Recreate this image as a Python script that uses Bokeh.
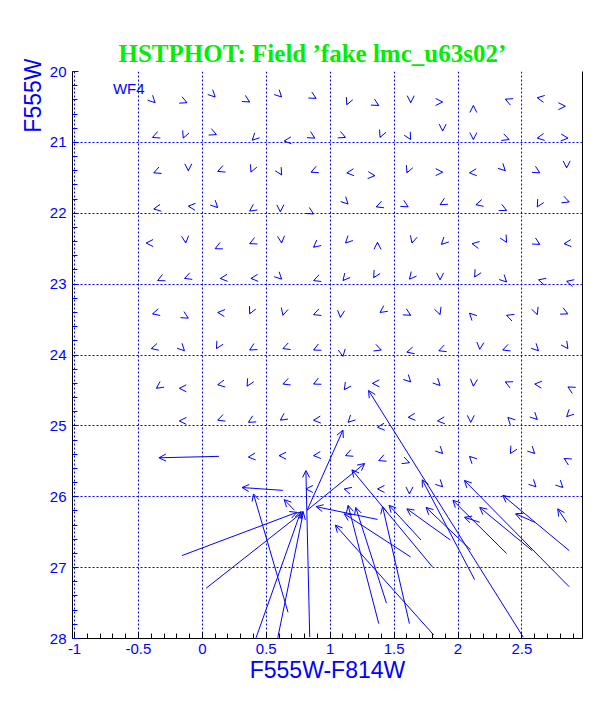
import numpy as np
from bokeh.plotting import figure
from bokeh.models import (Range1d, Arrow, OpenHead, ColumnDataSource, Label, Title,
                          LinearAxis, SingleIntervalTicker, FixedTicker,
                          CustomJSTickFormatter)
from bokeh.embed import file_html
from bokeh.resources import INLINE

# ---------------- data ----------------
# well-recovered fake stars: measured colour, measured magnitude, error direction (deg)
small_x = [
    -0.37, -0.12, 0.10, 0.37, 0.62, 0.89, 1.13, 1.38, 1.63, 1.88, 2.12, 2.37, 2.62, 2.84,
    -0.39, -0.15, 0.11, 0.39, 0.64, 0.88, 1.12, 1.39, 1.63, 1.88, 2.12, 2.40, 2.62, 2.86,
    -0.38, -0.11, 0.12, 0.38, 0.62, 0.85, 1.13, 1.35, 1.60, 1.88, 2.09, 2.37, 2.64, 2.85,
    -0.38, -0.11, 0.12, 0.37, 0.61, 0.87, 1.14, 1.36, 1.61, 1.86, 2.14, 2.38, 2.62, 2.87,
    -0.44, -0.13, 0.10, 0.37, 0.62, 0.87, 1.12, 1.37, 1.64, 1.87, 2.11, 2.38, 2.64, 2.83,
    -0.35, -0.14, 0.14, 0.38, 0.62, 0.87, 1.10, 1.34, 1.62, 1.86, 2.13, 2.38, 2.63, 2.85,
    -0.39, -0.11, 0.12, 0.37, 0.63, 0.87, 1.08, 1.39, 1.63, 1.86, 2.09, 2.38, 2.62, 2.86,
    -0.40, -0.14, 0.11, 0.37, 0.63, 0.87, 1.10, 1.40, 1.60, 1.85, 2.17, 2.35, 2.63, 2.86,
    -0.36, -0.18, 0.12, 0.35, 0.63, 0.87, 1.11, 1.33, 1.63, 1.86, 2.12, 2.37, 2.60, 2.86,
    -0.18, 0.12, 0.36, 0.61, 0.87, 1.14, 1.37, 1.61, 1.84, 2.10, 2.39, 2.62, 2.85,
    0.36, 0.60, 0.87, 1.12, 1.38, 1.62, 1.88, 2.09, 2.41, 2.60, 2.83,
    0.81, 1.11, 1.37, 1.62, 1.88, 2.61, 2.82,
]
small_y = [
    20.44, 20.44, 20.36, 20.43, 20.36, 20.38, 20.47, 20.48, 20.44, 20.43, 20.48, 20.39, 20.37, 20.49,
    20.93, 20.94, 20.89, 20.97, 20.98, 20.94, 20.93, 20.93, 20.96, 20.84, 20.96, 20.96, 20.94, 20.94,
    21.43, 21.40, 21.41, 21.42, 21.46, 21.42, 21.43, 21.47, 21.43, 21.42, 21.43, 21.40, 21.43, 21.36,
    21.94, 21.90, 21.92, 21.97, 21.98, 22.01, 21.87, 21.91, 21.91, 21.88, 21.88, 21.96, 21.91, 21.84,
    22.42, 22.42, 22.50, 22.43, 22.42, 22.48, 22.42, 22.41, 22.42, 22.44, 22.43, 22.41, 22.44, 22.43,
    22.95, 22.92, 22.92, 22.92, 22.93, 22.95, 22.95, 22.91, 22.93, 22.94, 22.90, 22.97, 22.94, 22.96,
    23.42, 23.48, 23.40, 23.42, 23.44, 23.43, 23.47, 23.40, 23.44, 23.43, 23.41, 23.44, 23.43, 23.42,
    23.91, 23.94, 23.91, 23.93, 23.91, 23.93, 24.02, 23.93, 23.96, 23.94, 23.92, 23.93, 23.94, 23.91,
    24.47, 24.47, 24.42, 24.44, 24.41, 24.41, 24.49, 24.40, 24.38, 24.43, 24.44, 24.38, 24.41, 24.45,
    24.93, 24.92, 24.95, 24.92, 24.92, 24.95, 25.02, 24.88, 24.93, 24.95, 24.88, 24.91, 24.87,
    25.44, 25.42, 25.42, 25.42, 25.49, 25.52, 25.39, 25.43, 25.39, 25.39, 25.46,
    25.89, 25.89, 25.89, 25.96, 25.86, 25.86, 25.87,
]
small_dir = [
    315, 337, 315, 330, 315, 330, 247, 330, 270, 0, 90, 157, 170, 0,
    202, 247, 337, 225, 185, 330, 337, 247, 300, 270, 270, 340, 190, 355,
    202, 270, 202, 247, 300, 202, 185, 355, 247, 0, 185, 315, 330, 270,
    190, 175, 315, 215, 270, 330, 315, 200, 330, 210, 195, 335, 240, 340,
    180, 275, 205, 205, 275, 220, 225, 90, 255, 225, 170, 300, 330, 185,
    205, 200, 185, 185, 315, 200, 230, 240, 230, 270, 240, 315, 165, 165,
    195, 330, 175, 245, 255, 200, 265, 215, 330, 290, 135, 160, 290, 335,
    195, 315, 240, 210, 200, 205, 280, 340, 195, 200, 265, 200, 315, 305,
    215, 180, 190, 240, 200, 205, 235, 180, 315, 315, 265, 155, 175, 150,
    180, 200, 210, 215, 185, 225, 185, 185, 185, 270, 135, 315, 225,
    185, 180, 185, 202, 202, 340, 315, 135, 240, 315, 150,
    180, 165, 180, 270, 315, 315, 315,
]

# badly measured fake stars: input (x0, y0) -> recovered (x1, y1)
long_x0 = [0.13, 0.63, -0.16, 0.03, 0.42, 0.59, 0.67, 0.84, 0.82, 0.82, 2.51, 0.72,
           2.87, 2.87, 2.58, 2.38, 2.10, 2.13, 1.80, 1.63, 1.62, 1.44, 1.38, 1.81,
           2.85, 2.60, 1.37, 2.17, 1.94, 1.71]
long_y0 = [25.43, 25.91, 26.83, 27.29, 27.99, 27.99, 27.63, 27.98, 26.19, 26.19, 27.98, 26.19,
           27.27, 26.76, 26.76, 26.80, 26.75, 27.17, 26.99, 26.85, 27.79, 27.50, 27.79, 27.95,
           26.36, 26.36, 26.32, 26.36, 26.61, 26.61]
long_x1 = [-0.34, 0.31, 0.74, 0.79, 0.77, 0.79, 0.40, 0.81, 1.10, 1.27, 1.30, 0.64,
           2.05, 2.35, 2.17, 1.96, 1.75, 1.72, 1.17, 1.11, 1.41, 1.20, 1.14, 1.04,
           2.78, 2.45, 0.89, 2.05, 1.60, 1.46]
long_y1 = [25.45, 25.87, 26.22, 26.21, 26.21, 26.22, 25.96, 25.63, 25.06, 25.53, 24.50, 26.04,
           25.77, 25.98, 26.15, 26.05, 26.15, 25.76, 25.62, 26.24, 26.14, 26.15, 26.12, 26.40,
           26.17, 26.24, 26.14, 26.29, 26.17, 26.12]

# ---------------- layout ----------------
X0, X1 = -1.016, 2.974
Y_BOT, Y_TOP = 28.0, 20.0
W, H = 604, 700
BL, BR, BT, BB = 72, 22, 71, 62
BLUE = "#0000ff"
GREEN = "#00ee00"
SANS = "Liberation Sans"

p = figure(width=W, height=H, x_range=Range1d(X0, X1), y_range=Range1d(Y_BOT, Y_TOP),
           output_backend="svg", toolbar_location=None,
           min_border_left=BL, min_border_right=BR, min_border_top=BT, min_border_bottom=BB,
           background_fill_color="white", border_fill_color="white",
           outline_line_color=None)

p.title = Title(text="HSTPHOT: Field \u2019fake lmc_u63s02\u2019", align="left",
                text_font="Liberation Serif", text_font_style="bold",
                text_font_size="25px", text_color=GREEN, offset=46,
                text_line_height=1.6)

p.add_layout(Title(text="F555W", align="right", text_font=SANS,
                   text_font_style="normal", text_font_size="23px",
                   text_color=BLUE, offset=-13, standoff=2), "left")

p.xaxis.ticker = SingleIntervalTicker(interval=0.5, num_minor_ticks=5)
p.yaxis.ticker = SingleIntervalTicker(interval=1, num_minor_ticks=5)
p.xaxis.formatter = CustomJSTickFormatter(code="return tick.toString()")

for ax in (p.xaxis[0], p.yaxis[0]):
    ax.axis_line_color = "black"
    ax.axis_line_width = 1
    ax.major_tick_in = 6
    ax.major_tick_out = 0
    ax.minor_tick_in = 5
    ax.minor_tick_out = 0
    ax.major_label_text_color = BLUE
    ax.major_label_text_font = SANS
    ax.major_label_text_font_size = "15px"
p.xaxis.major_tick_line_color = "black"
p.xaxis.minor_tick_line_color = "black"
p.yaxis.major_tick_line_color = BLUE
p.yaxis.minor_tick_line_color = BLUE
p.xaxis.major_label_standoff = 5
p.yaxis.major_label_standoff = 6

p.xaxis.axis_label = "F555W-F814W"
p.xaxis.axis_label_text_font = SANS
p.xaxis.axis_label_text_font_style = "normal"
p.xaxis.axis_label_text_font_size = "23px"
p.xaxis.axis_label_text_color = BLUE
p.xaxis.axis_label_standoff = 0

right = LinearAxis(ticker=FixedTicker(ticks=[]), major_label_text_font_size="0px",
                   axis_line_color="black", major_tick_line_color=None,
                   minor_tick_line_color=None)
p.add_layout(right, "right")

for g in (p.xgrid[0], p.ygrid[0]):
    g.grid_line_color = BLUE
    g.grid_line_dash = "2 2"
    g.grid_line_width = 1

# tiny arrows: give each a 1.5 px shaft in its error direction
fw = W - BL - BR
fh = H - BT - BB
ppx = fw / (X1 - X0)
ppy = fh / (Y_BOT - Y_TOP)
sx1 = np.array(small_x, dtype=float)
sy1 = np.array(small_y, dtype=float)
th = np.radians(np.array(small_dir, dtype=float))
L = 1.5
sx0 = sx1 - np.cos(th) * L / ppx
sy0 = sy1 + np.sin(th) * L / ppy

src_s = ColumnDataSource(dict(x0=sx0, y0=sy0, x1=sx1, y1=sy1))
p.add_layout(Arrow(end=OpenHead(size=7, line_color=BLUE, line_width=1),
                   x_start="x0", y_start="y0", x_end="x1", y_end="y1",
                   source=src_s, line_color=BLUE, line_width=1))

src_l = ColumnDataSource(dict(x0=long_x0, y0=long_y0, x1=long_x1, y1=long_y1))
p.add_layout(Arrow(end=OpenHead(size=7, line_color=BLUE, line_width=1),
                   x_start="x0", y_start="y0", x_end="x1", y_end="y1",
                   source=src_l, line_color=BLUE, line_width=1))

p.add_layout(Label(x=-0.70, y=20.24, text="WF4", text_font=SANS,
                   text_font_size="15px", text_color=BLUE,
                   text_align="left", text_baseline="alphabetic"))

open("out.html", "w").write(file_html(p, INLINE))
